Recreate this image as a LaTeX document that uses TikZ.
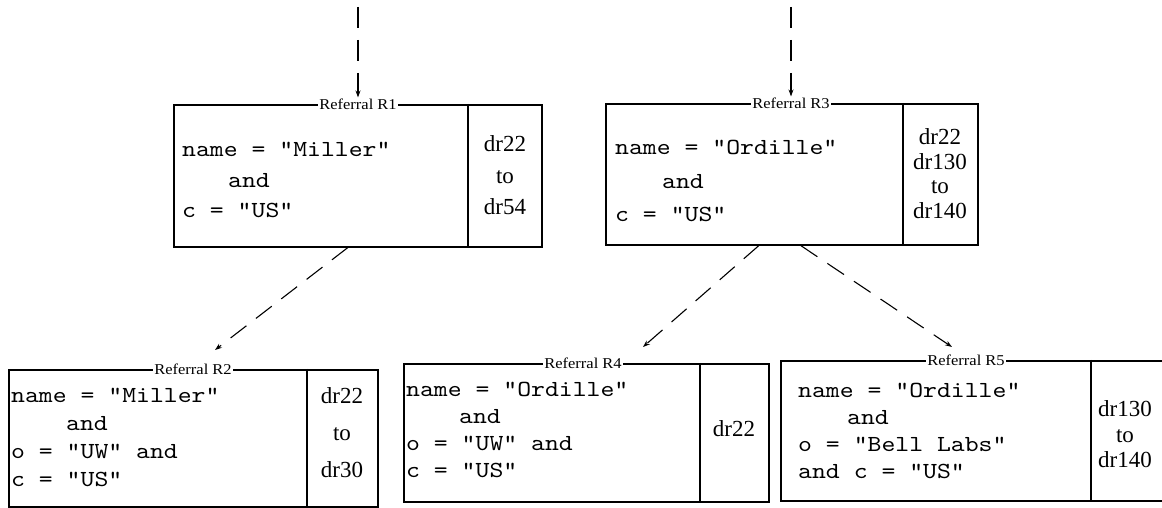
\documentclass[tikz,border=0pt]{standalone}
\usepackage{fontspec}
\setmainfont{Liberation Serif}
\newfontfamily\condfont{lmmono10-regular.otf}[FakeStretch=1.15]
\newfontfamily\labfont{Liberation Serif}[FakeStretch=1.1]
\usetikzlibrary{arrows.meta}

\tikzset{
  refframe/.style={draw, line width=1.6pt, inner sep=0pt, anchor=north west},
  divider/.style={line width=1.6pt},
  reflabel/.style={fill=white, inner xsep=1.5pt, inner ysep=1pt,
    font=\labfont\fontsize{15}{15}\selectfont},
  % multi-line nodes: the base anchor sits on the last line
  condtext/.style={anchor=base west, align=left, inner sep=0pt},
  drrange/.style={anchor=base, align=center, inner sep=0pt},
  flow/.style={line width=1.1pt, dash pattern=on 21pt off 12pt,
    -{Stealth[length=7pt,width=5pt]}},
}

\begin{document}
\begin{tikzpicture}[x=1pt,y=1pt]
\useasboundingbox (0,0) rectangle (1162,508);
\clip (0,0) rectangle (1162,508);

% ---- boxes ----
\node[refframe, minimum width=368pt, minimum height=142pt] (r1) at (173,404) {};
\node[refframe, minimum width=372pt, minimum height=141pt] (r3) at (605,405) {};
\node[refframe, minimum width=369pt, minimum height=137pt] (r2) at (8,139) {};
\node[refframe, minimum width=365pt, minimum height=138pt] (r4) at (403,145) {};
\node[refframe, minimum width=390pt, minimum height=140pt] (r5) at (780,148) {};

% ---- column dividers ----
\coordinate (d1) at (468,0);
\coordinate (d3) at (903,0);
\coordinate (d2) at (307,0);
\coordinate (d4) at (700,0);
\coordinate (d5) at (1091,0);
\foreach \b in {1,2,3,4,5}
  \draw[divider] (r\b.north -| d\b) -- (r\b.south -| d\b);

% ---- titles on the top borders ----
\node[reflabel] (l1) at (358,404) {Referral R1};
\node[reflabel] (l3) at (791,405) {Referral R3};
\node[reflabel] (l2) at (193,139) {Referral R2};
\node[reflabel] (l4) at (583,145) {Referral R4};
\node[reflabel] (l5) at (966,148) {Referral R5};

% ---- filter conditions ----
\node[condtext, font=\condfont\fontsize{23}{30.5}\selectfont] (c1) at (182,290)
  {name = "Miller"\\\hspace*{46pt}and\\c = "US"};
\node[condtext, font=\condfont\fontsize{23}{33.5}\selectfont] (c3) at (615,286)
  {name = "Ordille"\\\hspace*{47pt}and\\c = "US"};
\node[condtext, font=\condfont\fontsize{23}{28}\selectfont] (c2) at (11,21)
  {name = "Miller"\\\hspace*{55pt}and\\o = "UW" and\\c = "US"};
\node[condtext, font=\condfont\fontsize{23}{27}\selectfont] (c4) at (406,30)
  {name = "Ordille"\\\hspace*{53pt}and\\o = "UW" and\\c = "US"};
\node[condtext, font=\condfont\fontsize{23}{27}\selectfont] (c5) at (798,29)
  {name = "Ordille"\\\hspace*{49pt}and\\o = "Bell Labs"\\and c = "US"};

% ---- document ranges ----
\node[drrange, font=\fontsize{23}{31.5}\selectfont] (g1) at (505,293) {dr22\\to\\dr54};
\node[drrange, font=\fontsize{23}{24.5}\selectfont] (g3) at (940,289.5) {dr22\\dr130\\to\\dr140};
\node[drrange, font=\fontsize{23}{37}\selectfont] (g2) at (342,30) {dr22\\to\\dr30};
\node[drrange, font=\fontsize{23}{27}\selectfont] (g4) at (734,71) {dr22};
\node[drrange, font=\fontsize{23}{25.5}\selectfont] (g5) at (1125,40) {dr130\\to\\dr140};

% ---- referral arrows ----
\coordinate (s1) at (358,501);
\coordinate (s3) at (791,501);
\coordinate (e2) at (215,158);
\coordinate (e4) at (643,161);
\coordinate (e5) at (952,161);
\draw[flow] (s1) -- (l1.north);
\draw[flow] (s3) -- (l3.north);
\draw[flow, dash pattern=on 20pt off 12pt] ([xshift=-10pt]r1.south) -- (e2);
\draw[flow, dash pattern=on 20pt off 12pt] ([xshift=-33pt]r3.south) -- (e4);
\draw[flow, dash pattern=on 20pt off 12pt] ([xshift=9pt]r3.south) -- (e5);
\end{tikzpicture}
\end{document}
